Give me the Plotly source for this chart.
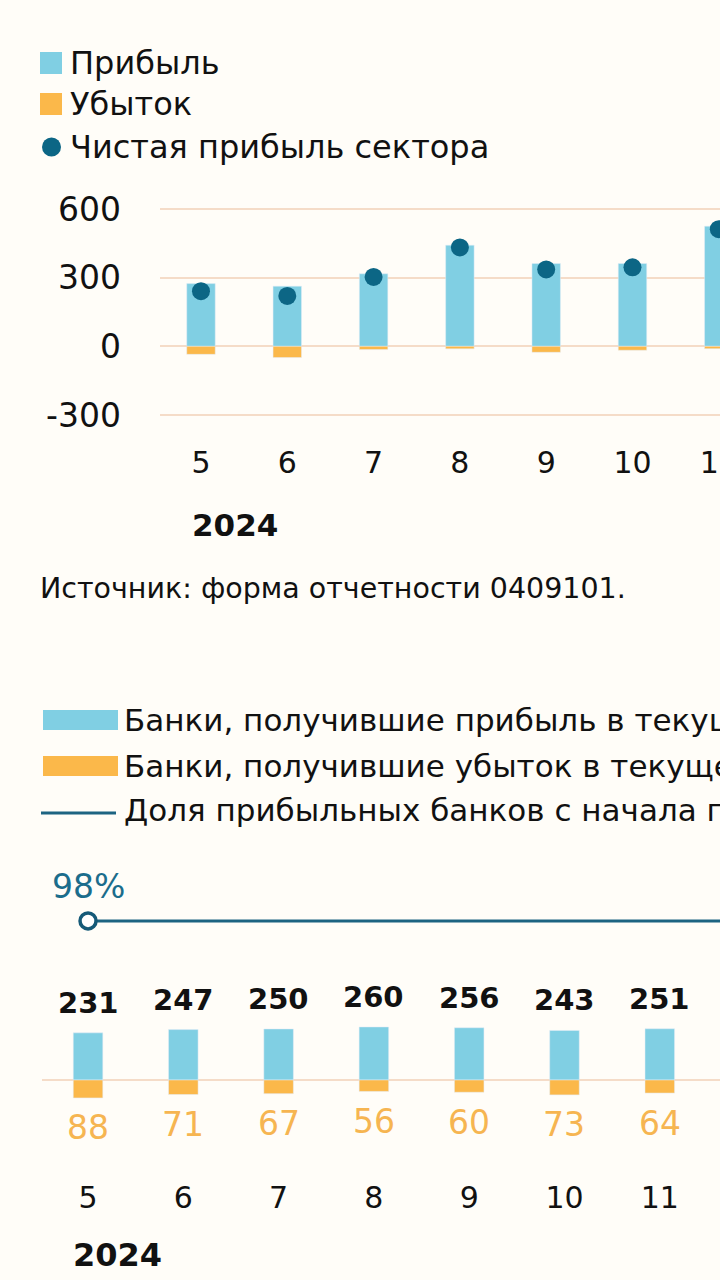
import plotly.graph_objects as go

# --- данные, верхний график (млрд руб.) ---
months = ["5", "6", "7", "8", "9", "10", "11"]
profit = [274, 263, 317, 442, 362, 362, 525]
loss = [-35, -49, -14, -11, -26, -17, -10]
net_profit = [241, 220, 303, 432, 336, 345, 512]
y_ticks = [-300, 0, 300, 600]
y_tick_labels = ["-300", "0", "300", "600"]

# --- данные, нижний график (число банков) ---
banks_profit = [231, 247, 250, 260, 256, 243, 251]
banks_loss = [88, 71, 67, 56, 60, 73, 64]
share_months = ["5", "6", "7", "8", "9", "10", "11", "12"]
share_profitable = [98, 98, 98, 98, 98, 98, 98, 98]

C_PROFIT = "#80cfe3"
C_LOSS = "#fbb84a"
C_NET = "#0c6685"
C_LINE = "#1d6482"
C_GRID = "#f5dcc8"
FONT = "DejaVu Sans"

fig = go.Figure()

# верхний график
fig.add_trace(go.Bar(x=months, y=profit, marker_color=C_PROFIT, width=0.33,
                     xaxis="x", yaxis="y"))
fig.add_trace(go.Bar(x=months, y=loss, marker_color=C_LOSS, width=0.33,
                     xaxis="x", yaxis="y"))
fig.add_trace(go.Scatter(x=months, y=net_profit, mode="markers",
                         marker=dict(color=C_NET, size=18),
                         xaxis="x", yaxis="y"))

# нижний график
fig.add_trace(go.Bar(x=months, y=banks_profit, marker_color=C_PROFIT, width=0.31,
                     xaxis="x2", yaxis="y2"))
fig.add_trace(go.Bar(x=months, y=[-v for v in banks_loss], marker_color=C_LOSS,
                     width=0.31, xaxis="x2", yaxis="y2"))
sizes = [16] + [0] * (len(share_months) - 1)
fig.add_trace(go.Scatter(x=share_months, y=share_profitable, mode="lines+markers",
                         line=dict(color=C_LINE, width=3),
                         marker=dict(size=sizes, color="white", opacity=1,
                                     line=dict(color="#155a78", width=3.5)),
                         xaxis="x2", yaxis="y3"))

# подписи значений (x — индекс категории)
annotations = []
for i, v in enumerate(banks_profit):
    annotations.append(dict(x=i, y=v, xref="x2", yref="y2", text=str(v),
                            showarrow=False, yshift=30, yanchor="middle",
                            font=dict(size=29, color="#111111", family=FONT, weight="bold")))
for i, v in enumerate(banks_loss):
    annotations.append(dict(x=i, y=-v, xref="x2", yref="y2", text=str(v),
                            showarrow=False, yshift=-30, yanchor="middle",
                            font=dict(size=33, color="#f6b551", family=FONT)))
annotations.append(dict(x=0, y=share_profitable[0], xref="x2", yref="y3",
                        text=f"{share_profitable[0]}%", showarrow=False, yshift=34,
                        yanchor="middle",
                        font=dict(size=33, color="#1b6d8c", family=FONT)))


def paper_text(xpx, ypx, text, size=30, bold=False):
    return dict(x=xpx / 720, y=1 - ypx / 1280, xref="paper", yref="paper",
                xanchor="left", yanchor="middle", text=text, showarrow=False,
                font=dict(size=size, color="#111111", family=FONT,
                          weight="bold" if bold else "normal"))


annotations.append(paper_text(190, 525, "2024", size=31, bold=True))
annotations.append(paper_text(71, 1255, "2024", size=32, bold=True))
annotations.append(paper_text(38, 588, "Источник: форма отчетности 0409101.", size=28.5))

# легенды (рисуем вручную)
shapes = []
legend_top = [("Прибыль", 63, "sq", C_PROFIT), ("Убыток", 104, "sq", C_LOSS),
              ("Чистая прибыль сектора", 147, "dot", C_NET)]
for text, ypx, kind, col in legend_top:
    if kind == "sq":
        shapes.append(dict(type="rect", xref="paper", yref="paper", line_width=0,
                           x0=40 / 720, x1=62 / 720, y0=1 - (ypx + 11) / 1280,
                           y1=1 - (ypx - 11) / 1280, fillcolor=col))
    else:
        shapes.append(dict(type="circle", xref="paper", yref="paper", line_width=0,
                           x0=42 / 720, x1=61 / 720, y0=1 - (ypx + 9.5) / 1280,
                           y1=1 - (ypx - 9.5) / 1280, fillcolor=col))
    annotations.append(paper_text(68, ypx, text, size=32))

legend_bottom = [("Банки, получившие прибыль в текущем месяце", 720, "rect", C_PROFIT),
                 ("Банки, получившие убыток в текущем месяце", 766, "rect", C_LOSS),
                 ("Доля прибыльных банков с начала года (правая шкала)", 810, "line", C_LINE)]
for text, ypx, kind, col in legend_bottom:
    if kind == "rect":
        shapes.append(dict(type="rect", xref="paper", yref="paper", line_width=0,
                           x0=43 / 720, x1=118 / 720, y0=1 - (ypx + 10) / 1280,
                           y1=1 - (ypx - 10) / 1280, fillcolor=col))
    else:
        shapes.append(dict(type="line", xref="paper", yref="paper",
                           x0=41 / 720, x1=116 / 720, y0=1 - (ypx + 3) / 1280,
                           y1=1 - (ypx + 3) / 1280, line=dict(color=col, width=3)))
    annotations.append(paper_text(122, ypx, text, size=31))

x_tick_font = dict(size=30, color="#111111", family=FONT)
y_tick_font = dict(size=33, color="#111111", family=FONT)

fig.update_layout(
    width=720, height=1280,
    margin=dict(l=0, r=0, t=0, b=0),
    paper_bgcolor="#fffdf8", plot_bgcolor="#fffdf8",
    barmode="relative",
    showlegend=False,
    font=dict(family=FONT),
    xaxis=dict(domain=[160 / 720, 1], range=[-0.475, 6.014], type="category",
               anchor="y", showgrid=False, zeroline=False, ticks="",
               automargin=False, tickfont=x_tick_font, ticklabelstandoff=22),
    yaxis=dict(domain=[1 - 419.6 / 1280, 1 - 204.4 / 1280], range=[-320, 620],
               anchor="x", tickvals=y_ticks, ticktext=y_tick_labels,
               gridcolor=C_GRID, gridwidth=1.5, automargin=False,
               zeroline=False, ticks="", tickfont=y_tick_font, ticklabelstandoff=38),
    xaxis2=dict(domain=[42 / 720, 1], range=[-0.483, 6.632], type="category",
                categoryarray=share_months, anchor="y2", showgrid=False,
                automargin=False, zeroline=False, ticks="", tickfont=x_tick_font,
                ticklabelstandoff=17),
    yaxis2=dict(domain=[1 - 1160 / 1280, 1 - 960 / 1280], range=[-392, 588],
                anchor="x2", showgrid=False, showticklabels=False, zeroline=True,
                automargin=False, zerolinecolor=C_GRID, zerolinewidth=1.5),
    yaxis3=dict(domain=[1 - 940 / 1280, 1 - 900 / 1280], range=[97, 99.1],
                anchor="x2", showgrid=False, showticklabels=False, zeroline=False,
                automargin=False),
    annotations=annotations,
    shapes=shapes,
)

fig.write_html("out.html", config={"displayModeBar": False},
               post_script="document.body.style.margin='0';")
